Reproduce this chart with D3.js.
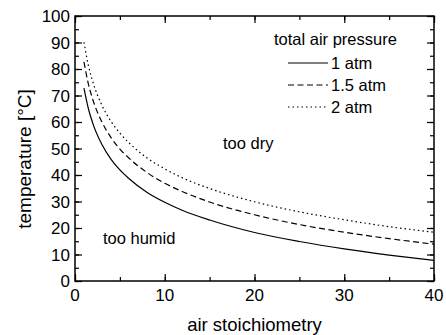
<!DOCTYPE html>
<html>
<head>
<meta charset="utf-8">
<script src="https://cdn.jsdelivr.net/npm/d3@7"></script>
<style>
  body { margin: 0; background: #fff; }
  svg text { font-family: "Liberation Sans", Arial, sans-serif; fill: #000; }
</style>
</head>
<body>
<div id="chart"></div>
<script>
// stoichiometry values where the curves were read
const stoich = [1, 1.5, 2, 3, 4, 5, 6, 8, 10, 12, 15, 20, 25, 30, 35, 40];
// temperature [°C] for each pressure
const temp1atm   = [72.8, 64.9, 59.3, 51.5, 46.0, 41.9, 38.7, 33.5, 29.7, 26.6, 23.0, 18.3, 14.9, 12.1, 9.8, 7.8];
const temp15atm  = [82.7, 74.2, 68.3, 60.0, 54.2, 49.8, 46.4, 41.0, 36.9, 33.7, 29.8, 25.0, 21.3, 18.4, 16.0, 13.9];
const temp2atm   = [90.1, 81.2, 75.0, 66.3, 60.3, 55.8, 52.2, 46.5, 42.3, 38.9, 34.9, 29.9, 26.1, 23.1, 20.5, 18.4];
const seriesNames = ["1 atm", "1.5 atm", "2 atm"];
const xTicks = [0, 10, 20, 30, 40];
const yTicks = [0, 10, 20, 30, 40, 50, 60, 70, 80, 90, 100];

(function () {
  const W = 446, H = 335;
  const m = { left: 75, right: 12, top: 16, bottom: 54 };

  const svg = d3.select("#chart").append("svg")
    .attr("width", W).attr("height", H);

  const x = d3.scaleLinear().domain([0, 40]).range([m.left, W - m.right]);
  const y = d3.scaleLinear().domain([0, 100]).range([H - m.bottom, m.top]);

  const dashes = [null, "6,3.5", "1.5,3"];
  const series = [temp1atm, temp15atm, temp2atm];

  // curves
  const line = d3.line()
    .x(d => x(d[0]))
    .y(d => y(d[1]))
    .curve(d3.curveMonotoneX);

  series.forEach((vals, i) => {
    svg.append("path")
      .datum(stoich.map((s, j) => [s, vals[j]]))
      .attr("d", line)
      .attr("fill", "none")
      .attr("stroke", "#000")
      .attr("stroke-width", 1.2)
      .attr("stroke-dasharray", dashes[i]);
  });

  // frame with inward ticks on all four sides
  const minorX = d3.range(0, 41, 5), minorY = d3.range(0, 101, 5);
  const axStyle = g => {
    g.select(".domain").remove();
    g.selectAll("line").attr("stroke", "#000").attr("stroke-width", 1.2);
    g.selectAll("text").remove();
  };
  const y0 = H - m.bottom, x0 = m.left, x1 = W - m.right, y1 = m.top;

  svg.append("g").attr("transform", `translate(0,${y0})`)
    .call(d3.axisTop(x).tickValues(minorX).tickSize(4)).call(axStyle);
  svg.append("g").attr("transform", `translate(0,${y0})`)
    .call(d3.axisTop(x).tickValues(xTicks).tickSize(7)).call(axStyle);
  svg.append("g").attr("transform", `translate(0,${y1})`)
    .call(d3.axisBottom(x).tickValues(minorX).tickSize(4)).call(axStyle);
  svg.append("g").attr("transform", `translate(0,${y1})`)
    .call(d3.axisBottom(x).tickValues(xTicks).tickSize(7)).call(axStyle);
  svg.append("g").attr("transform", `translate(${x0},0)`)
    .call(d3.axisRight(y).tickValues(minorY).tickSize(4)).call(axStyle);
  svg.append("g").attr("transform", `translate(${x0},0)`)
    .call(d3.axisRight(y).tickValues(yTicks).tickSize(7)).call(axStyle);
  svg.append("g").attr("transform", `translate(${x1},0)`)
    .call(d3.axisLeft(y).tickValues(minorY).tickSize(4)).call(axStyle);
  svg.append("g").attr("transform", `translate(${x1},0)`)
    .call(d3.axisLeft(y).tickValues(yTicks).tickSize(7)).call(axStyle);

  svg.append("rect")
    .attr("x", x0).attr("y", y1)
    .attr("width", x1 - x0).attr("height", y0 - y1)
    .attr("fill", "none").attr("stroke", "#000").attr("stroke-width", 1.5);

  // tick labels
  svg.append("g").selectAll("text").data(xTicks).join("text")
    .attr("x", d => x(d)).attr("y", y0 + 20)
    .attr("text-anchor", "middle").attr("font-size", 17)
    .text(d => d);
  svg.append("g").selectAll("text").data(yTicks).join("text")
    .attr("x", x0 - 5).attr("y", d => y(d) + 6)
    .attr("text-anchor", "end").attr("font-size", 17)
    .text(d => d);

  // axis titles
  svg.append("text")
    .attr("x", (x0 + x1) / 2).attr("y", 331)
    .attr("text-anchor", "middle").attr("font-size", 18.5)
    .text("air stoichiometry");
  svg.append("text")
    .attr("transform", `translate(31,159) rotate(-90)`)
    .attr("text-anchor", "middle").attr("font-size", 19)
    .text("temperature [°C]");

  // region labels
  svg.append("text").attr("x", 223).attr("y", 149)
    .attr("font-size", 16.5).text("too dry");
  svg.append("text").attr("x", 103).attr("y", 244)
    .attr("font-size", 16.5).text("too humid");

  // legend
  svg.append("text").attr("x", 274).attr("y", 45)
    .attr("font-size", 16.5).text("total air pressure");
  seriesNames.forEach((name, i) => {
    const ly = 63 + i * 22;
    svg.append("line")
      .attr("x1", 288).attr("x2", 328).attr("y1", ly).attr("y2", ly)
      .attr("stroke", "#000").attr("stroke-width", 1.2)
      .attr("stroke-dasharray", dashes[i]);
    svg.append("text").attr("x", 331).attr("y", ly + 6)
      .attr("font-size", 16.5).text(name);
  });
})();
</script>
</body>
</html>
